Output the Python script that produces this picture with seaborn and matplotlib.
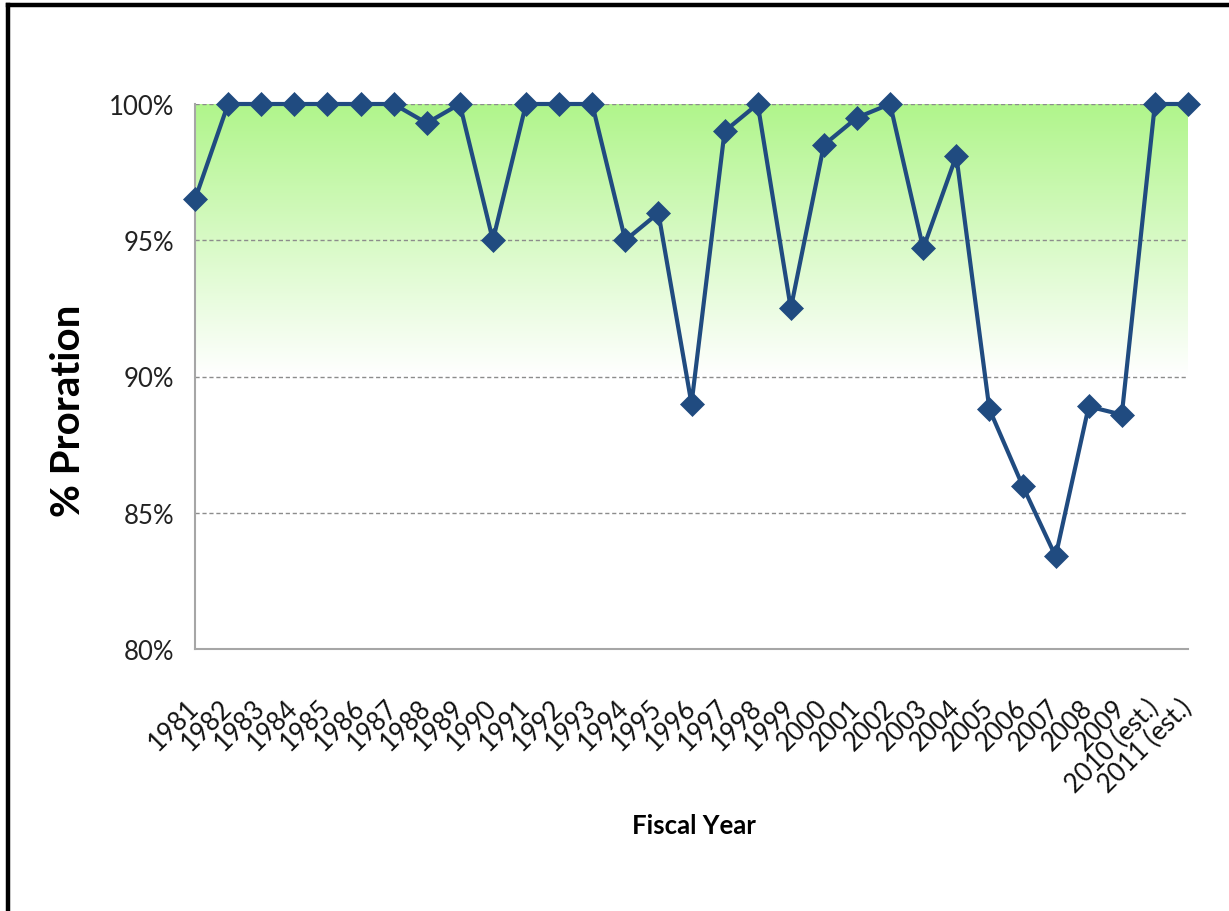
import numpy as np
import pandas as pd
import matplotlib
matplotlib.use("Agg")
import matplotlib.pyplot as plt
import matplotlib.transforms as mtransforms
from matplotlib.colors import LinearSegmentedColormap
from matplotlib.lines import Line2D
import seaborn as sns

# Proration by fiscal year (percent)
years = ["1981", "1982", "1983", "1984", "1985", "1986", "1987", "1988", "1989", "1990",
         "1991", "1992", "1993", "1994", "1995", "1996", "1997", "1998", "1999", "2000",
         "2001", "2002", "2003", "2004", "2005", "2006", "2007", "2008", "2009",
         "2010 (est.)", "2011 (est.)"]
proration = [96.5, 100, 100, 100, 100, 100, 100, 99.3, 100, 95.0,
             100, 100, 100, 95.0, 96.0, 89.0, 99.0, 100, 92.5, 98.5,
             99.5, 100, 94.7, 98.1, 88.8, 86.0, 83.4, 88.9, 88.6,
             100, 100]
y_ticks = [80, 85, 90, 95, 100]

df = pd.DataFrame({"pos": np.arange(len(years)), "pct": proration})

sns.set_theme(style="white")
plt.rcParams["font.family"] = ["Lato", "DejaVu Sans"]

W, H = 1229, 912
fig = plt.figure(figsize=(W / 100, H / 100), dpi=100)
ax = fig.add_axes([195 / W, 1 - 650 / H, (1188 - 195) / W, (650 - 105) / H])

line_color = "#204B80"
grid_color = "#8C8C8C"
axis_color = "#A6A6A6"

# green gradient band fading to white below the top of the scale
cmap = LinearSegmentedColormap.from_list("band", ["#FFFFFF", "#B0F58B"])
grad = np.linspace(0, 1, 256).reshape(-1, 1)
ax.imshow(grad, extent=[0, len(years) - 1, 90, 100], origin="lower",
          aspect="auto", cmap=cmap, zorder=0, interpolation="bilinear")

# dashed horizontal gridlines
for t in y_ticks[1:]:
    ax.axhline(t, color=grid_color, lw=1.0, ls=(0, (3, 2)), zorder=1)

sns.lineplot(data=df, x="pos", y="pct", ax=ax, color=line_color, lw=3.0,
             marker="D", markersize=12, markeredgecolor=line_color,
             markeredgewidth=0.5, zorder=3, clip_on=False)

ax.set_xlim(0, len(years) - 1)
ax.set_ylim(80, 100)
ax.set_yticks(y_ticks)
ax.set_yticklabels([f"{t}%" for t in y_ticks], fontsize=18.5, color="#222222")
ax.set_xticks(df["pos"])
ax.set_xticklabels(years, fontsize=18.5, color="#111111",
                   rotation=45, ha="right", va="center", rotation_mode="anchor")
offset = mtransforms.ScaledTranslation(17 / 100, 0, fig.dpi_scale_trans)
for lbl in ax.get_xticklabels():
    lbl.set_transform(lbl.get_transform() + offset)

ax.tick_params(axis="both", which="major", direction="out", length=7,
               width=1.3, color=axis_color)
ax.tick_params(axis="x", pad=32)
ax.tick_params(axis="y", pad=8)
for side in ["top", "right"]:
    ax.spines[side].set_visible(False)
for side in ["left", "bottom"]:
    ax.spines[side].set_color(axis_color)
    ax.spines[side].set_linewidth(1.5)
ax.set_xlabel("")
ax.set_ylabel("")
ax.grid(False)

fig.text(68 / W, 1 - 411 / H, "% Proration", rotation=90, fontsize=29,
         fontweight="bold", ha="center", va="center", color="#000000")
fig.text(694 / W, 1 - 826 / H, "Fiscal Year", fontsize=18.5,
         fontweight="bold", ha="center", va="center", color="#000000")

# outer frame on the left and top edges
fig.add_artist(Line2D([8 / W, 8 / W], [0, 1 - 5.5 / H], color="black", lw=3.2,
                      solid_capstyle="projecting"))
fig.add_artist(Line2D([8 / W, 1], [1 - 5.5 / H, 1 - 5.5 / H], color="black", lw=3.2,
                      solid_capstyle="projecting"))

fig.savefig("out.png", dpi=100)
